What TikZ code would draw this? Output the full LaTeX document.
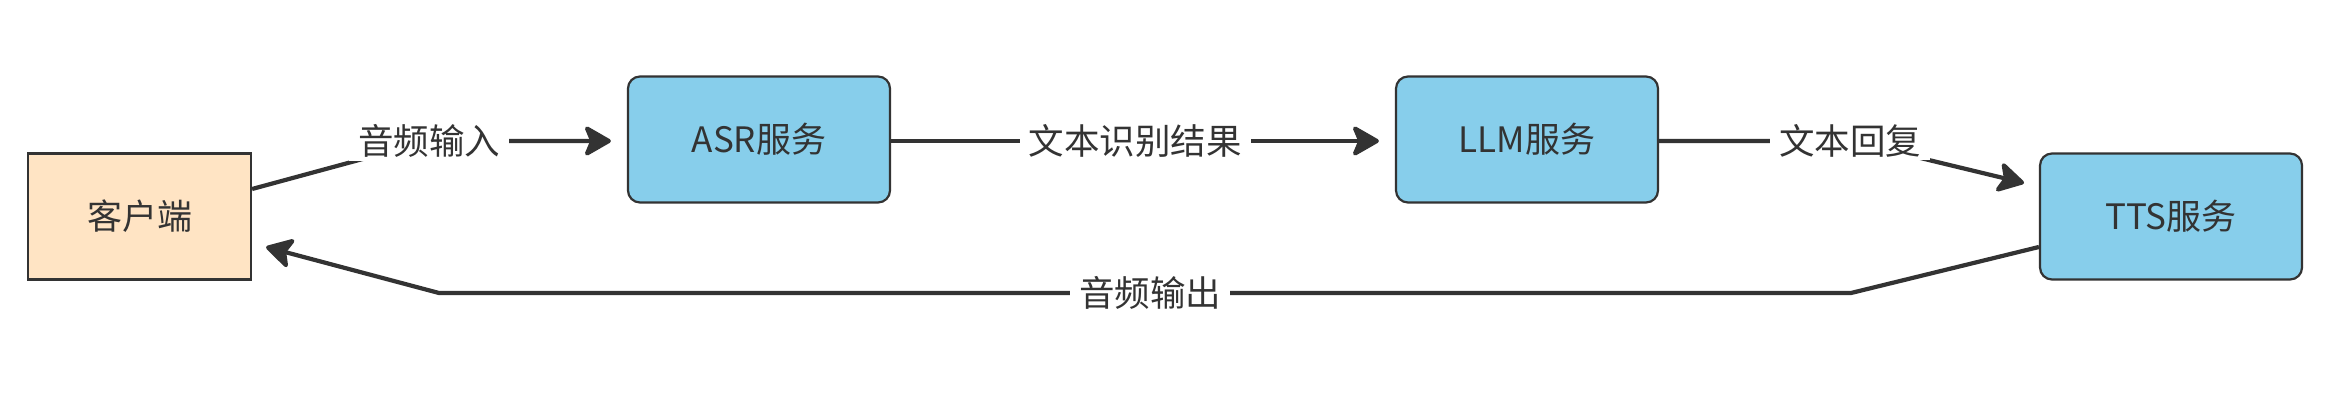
\documentclass[tikz,border=0pt]{standalone}
\usepackage{fontspec}
\setmainfont{Noto Sans CJK SC}
\usetikzlibrary{arrows.meta}
\definecolor{ink}{HTML}{333333}
\definecolor{sky}{HTML}{87CEEB}
\definecolor{bisq}{HTML}{FFE4C4}
\begin{document}
\begin{tikzpicture}[x=1pt,y=-1pt,
  box/.style={draw=ink, line width=2.2pt, minimum height=126pt, inner sep=0pt,
    font=\fontsize{35}{42}\selectfont, text=ink},
  svc/.style={box, fill=sky, rounded corners=12pt, minimum width=262pt},
  cli/.style={box, fill=bisq, minimum width=223pt},
  conn/.style={draw=ink, line width=4.2pt,
    -{Stealth[length=30pt,width=34pt,inset=7pt,round]}},
  lbl/.style={fill=white, inner xsep=9pt, inner ysep=3pt,
    font=\fontsize{35.5}{42}\selectfont, text=ink}]
\useasboundingbox (0,0) rectangle (2333,406);
\node[cli] (client) at (139.5,216.5) {客户端};
\node[svc] (asr) at (759,139.5) {ASR服务};
\node[svc] (llm) at (1527,139.5) {LLM服务};
\node[svc] (tts) at (2171,216.5) {TTS服务};
\coordinate (b1) at (429,141);
\coordinate (b3) at (1850,141);
\coordinate (b4a) at (1851,293);
\coordinate (b4b) at (439,293);
\coordinate (t3) at (2024,183);
\draw[conn] ([yshift=27.5pt]client.east) -- (b1) -- ([xshift=-16pt,yshift=-1.5pt]asr.west);
\node[lbl] (l1) at (b1) {音频输入};
\draw[conn] ([yshift=-1.5pt]asr.east) -- ([xshift=-16pt,yshift=-1.5pt]llm.west)
  node[lbl, midway] (l2) {文本识别结果};
\draw[conn] ([yshift=-1.5pt]llm.east) -- (b3) -- (t3);
\node[lbl] (l3) at (b3) {文本回复};
\draw[conn] ([yshift=-30.5pt]tts.west) -- (b4a) -- (b4b) -- ([xshift=14pt,yshift=-30.5pt]client.east);
\node[lbl] (l4) at (1150,293) {音频输出};
\end{tikzpicture}
\end{document}
